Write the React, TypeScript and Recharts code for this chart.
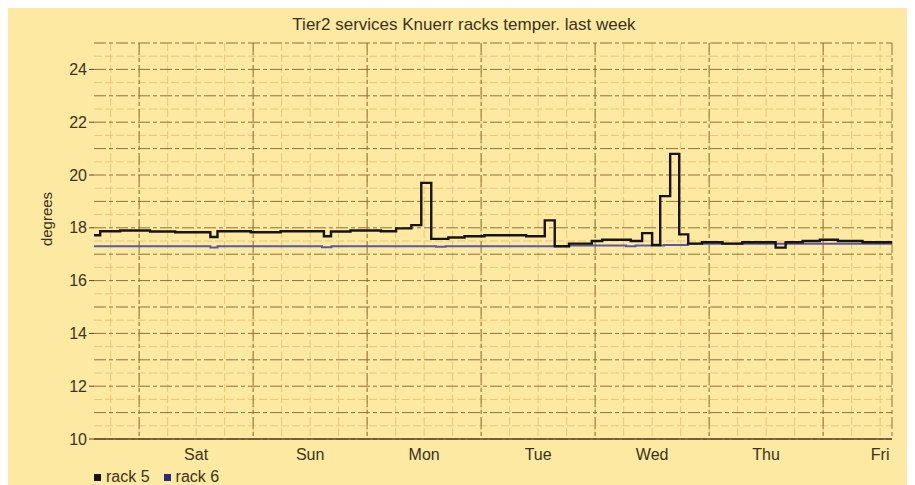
import { LineChart, Line, XAxis, YAxis, CartesianGrid } from 'recharts';

// hours since the start of the window (Fri ~14:30)
const rack5Hours = [0, 1.3, 5.5, 11.8, 17.1, 24.5, 26, 33, 39.3, 48.4, 49.9, 54, 60.4, 63.6, 66.8, 68.9, 71, 74.6, 78, 82.2, 91, 94.9, 97, 100, 104.8, 107, 113, 115.4, 117.5, 119.2, 121.3, 123.2, 125.1, 128, 132.3, 136.5, 143.5, 145.6, 149.2, 152.8, 156.6, 161.8, 168];
const rack5Temps = [17.72, 17.87, 17.9, 17.86, 17.83, 17.65, 17.87, 17.83, 17.87, 17.68, 17.86, 17.9, 17.87, 17.98, 18.1, 19.7, 17.58, 17.63, 17.68, 17.72, 17.68, 18.28, 17.3, 17.4, 17.5, 17.55, 17.5, 17.8, 17.35, 19.2, 20.8, 17.75, 17.4, 17.45, 17.4, 17.45, 17.25, 17.45, 17.5, 17.55, 17.5, 17.45, 17.45];

const rack6Hours = [0, 24.5, 26, 48, 50, 72, 74, 97, 100, 112, 114, 120, 125, 168];
const rack6Temps = [17.3, 17.25, 17.3, 17.26, 17.3, 17.28, 17.3, 17.3, 17.33, 17.3, 17.33, 17.35, 17.4, 17.4];

const dayLabels = ['Sat', 'Sun', 'Mon', 'Tue', 'Wed', 'Thu', 'Fri'];
const dayNoonHours = [21.5, 45.5, 69.5, 93.5, 117.5, 141.5, 165.5];
const midnightHours = [9.5, 33.5, 57.5, 81.5, 105.5, 129.5, 153.5, 168];
const yTicks = [10, 12, 14, 16, 18, 20, 22, 24];

const sixHourLines = Array.from({ length: 28 }, (_, i) => 3.5 + i * 6).filter((h) => h > 0 && h < 168);
const degreeLines = Array.from({ length: 16 }, (_, i) => 10 + i);
const halfDegreeLines = Array.from({ length: 15 }, (_, i) => 10.5 + i);

const rack5 = rack5Hours.map((h, i) => ({ h, t: rack5Temps[i] }));
const rack6 = rack6Hours.map((h, i) => ({ h, t: rack6Temps[i] }));

const font = '"Liberation Sans", Arial, sans-serif';
const textColor = '#3b3320';

export default function App() {
  return (
    <div style={{ position: 'relative', width: 907, height: 477, background: '#fde9a2', fontFamily: font }}>
      <div style={{ position: 'absolute', top: 7, left: 0, width: 912, textAlign: 'center', fontSize: 17, color: textColor }}>
        Tier2 services Knuerr racks temper. last week
      </div>
      <div
        style={{
          position: 'absolute', left: 38, top: 211, fontSize: 15, color: textColor,
          transform: 'translate(-50%, -50%) rotate(-90deg)',
        }}
      >
        degrees
      </div>
      <LineChart
        width={907}
        height={477}
        margin={{ top: 35, right: 23, bottom: 16, left: 30 }}
        style={{ position: 'absolute', left: 0, top: 0 }}
      >
        <CartesianGrid
          horizontalValues={halfDegreeLines}
          verticalValues={sixHourLines}
          stroke="#e6c77c"
          strokeDasharray="8 3"
          strokeWidth={1}
        />
        <CartesianGrid
          horizontalValues={degreeLines}
          verticalValues={midnightHours}
          stroke="#8f713c"
          strokeDasharray="12 3 4 3"
          strokeWidth={1}
        />
        <XAxis
          type="number"
          dataKey="h"
          domain={[0, 168]}
          ticks={dayNoonHours}
          height={30}
          tickFormatter={(v: number) => dayLabels[dayNoonHours.indexOf(v)]}
          tick={{ fontSize: 16, fill: textColor, fontFamily: font }}
          tickLine={false}
          axisLine={{ stroke: '#5a4520', strokeWidth: 1.5 }}
          tickMargin={4}
          allowDuplicatedCategory={false}
        />
        <YAxis
          type="number"
          domain={[10, 25]}
          ticks={yTicks}
          width={56}
          tick={{ fontSize: 16, fill: textColor, fontFamily: font }}
          tickLine={{ stroke: '#5a4520' }}
          tickSize={5}
          axisLine={false}
        />
        <Line
          data={rack6}
          dataKey="t"
          type="stepAfter"
          stroke="#5858a6"
          strokeWidth={2}
          dot={false}
          isAnimationActive={false}
        />
        <Line
          data={rack5}
          dataKey="t"
          type="stepAfter"
          stroke="#16140c"
          strokeWidth={2.4}
          dot={false}
          isAnimationActive={false}
        />
      </LineChart>
      <div style={{ position: 'absolute', left: 86, top: 460, fontSize: 16, color: textColor, display: 'flex', gap: 14 }}>
        <span style={{ display: 'flex', alignItems: 'center', gap: 5 }}>
          <span style={{ width: 7, height: 7, background: '#16140c', display: 'inline-block' }} />
          rack 5
        </span>
        <span style={{ display: 'flex', alignItems: 'center', gap: 5 }}>
          <span style={{ width: 7, height: 7, background: '#2a2a80', display: 'inline-block' }} />
          rack 6
        </span>
      </div>
    </div>
  );
}
